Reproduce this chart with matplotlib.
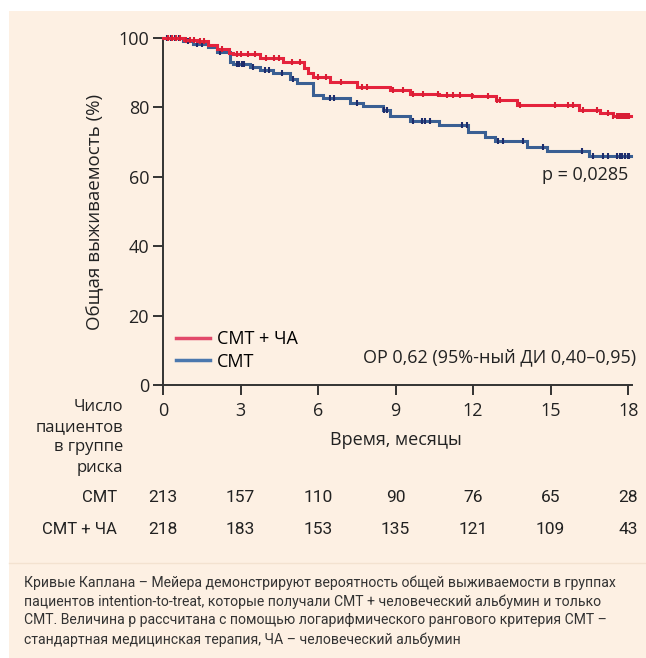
import matplotlib
matplotlib.use("Agg")
import matplotlib.pyplot as plt
import matplotlib.transforms as mtransforms
from matplotlib.patches import Rectangle
from matplotlib.lines import Line2D
import numpy as np

# ---------------- data ----------------
months_ticks = [0, 3, 6, 9, 12, 15, 18]
y_ticks = [0, 20, 40, 60, 80, 100]

ha_times = [0, 0.8, 1.3, 1.75, 2.1, 2.55, 2.7, 3.76, 4.65, 5.45, 5.6, 5.8, 6.47, 7.5,
            8.79, 9.56, 10.7, 11.95, 12.9, 13.7, 16.1, 16.9, 17.4, 18.1]
ha_surv = [100, 99.5, 99.0, 98.0, 96.7, 95.6, 95.3, 94.1, 93.2, 91.4, 89.9, 88.9, 87.4, 86.0,
           85.0, 84.0, 83.6, 83.3, 82.1, 80.7, 79.2, 78.5, 77.6, 77.6]
ha_cens = [0.2, 0.35, 0.5, 0.65, 0.9, 1.05, 1.2, 1.45, 1.6, 2.3, 2.85, 3.0, 3.3, 3.55, 4.0,
           4.3, 4.5, 5.0, 5.3, 6.0, 6.3, 6.9, 7.7, 7.9, 8.9, 9.3, 9.68, 10.07, 10.65, 10.99,
           11.23, 11.5, 11.96, 12.58, 12.93, 13.05, 13.82, 15.18, 15.68, 15.87, 16.26, 16.8,
           17.23, 17.42, 17.58, 17.65, 17.72, 17.8, 17.88, 17.95, 18.02]

smt_times = [0, 0.79, 1.17, 1.75, 2.08, 2.6, 2.72, 3.37, 3.76, 4.27, 4.92, 5.18, 5.8, 6.2,
             7.24, 7.75, 8.5, 8.79, 9.56, 10.7, 11.8, 12.47, 12.85, 14.1, 14.85, 16.5, 18.1]
smt_surv = [100, 99.2, 98.3, 97.3, 96.0, 93.0, 92.5, 91.7, 90.8, 89.9, 88.2, 87.1, 83.6, 82.7,
            81.3, 80.4, 79.2, 77.5, 76.1, 74.9, 73.0, 71.4, 70.4, 68.6, 67.5, 66.1, 66.1]
smt_cens = [0.15, 0.3, 0.45, 0.6, 0.95, 1.3, 1.5, 2.2, 2.85, 2.95, 3.05, 3.15, 3.5, 3.95,
            4.1, 4.6, 5.05, 6.45, 6.6, 7.5, 8.55, 8.65, 9.68, 10.03, 10.14, 10.34, 11.58,
            11.77, 12.97, 13.16, 13.94, 14.71, 16.22, 16.65, 17.03, 17.23, 17.58, 17.68,
            17.78, 17.88, 17.98, 18.05]

risk_smt = [213, 157, 110, 90, 76, 65, 28]
risk_ha = [218, 183, 153, 135, 121, 109, 43]

label_ha = "СМТ + ЧА"
label_smt = "СМТ"
ylabel = "Общая выживаемость (%)"
xlabel = "Время, месяцы"
risk_title = "Число\nпациентов\nв группе\nриска"
p_text = "p = 0,0285"
hr_text = "ОР 0,62 (95%-ный ДИ 0,40–0,95)"
caption = ("Кривые Каплана – Мейера демонстрируют вероятность общей выживаемости в группах\n"
           "пациентов intention-to-treat, которые получали СМТ + человеческий альбумин и только\n"
           "СМТ. Величина р рассчитана с помощью логарифмического рангового критерия СМТ –\n"
           "стандартная медицинская терапия, ЧА – человеческий альбумин")

# ---------------- style ----------------
W, H = 646, 658
DPI = 100
BG = "#FDF0E3"
RED = "#E5233D"
RED_MK = "#D81E34"
BLUE = "#3A5F93"
BLUE_MK = "#1E2C6B"
AX_C = "#333333"
MAIN_FONT = ["Open Sans", "DejaVu Sans"]
NARROW_FONT = ["Liberation Sans Narrow", "Roboto", "DejaVu Sans"]

plt.rcParams["font.family"] = MAIN_FONT

fig = plt.figure(figsize=(W / DPI, H / DPI), dpi=DPI, facecolor="white")
fig.patches.append(Rectangle((9 / W, 0), 1, (H - 11) / H, transform=fig.transFigure,
                             facecolor=BG, edgecolor="none", zorder=-10))
fig.add_artist(Line2D([9 / W, 1], [(H - 563) / H] * 2, transform=fig.transFigure,
                      color="#F3E2D0", lw=1.0))

ax_left, ax_right = 163 / W, 632 / W
ax_bottom, ax_top = (H - 385) / H, (H - 38) / H
ax = fig.add_axes([ax_left, ax_bottom, ax_right - ax_left, ax_top - ax_bottom])
ax.set_facecolor("none")
ax.set_xlim(0, 18.15)
ax.set_ylim(0, 100)
for s in ["top", "right"]:
    ax.spines[s].set_visible(False)
for s in ["left", "bottom"]:
    ax.spines[s].set_color(AX_C)
    ax.spines[s].set_linewidth(1.4)
ax.set_xticks(months_ticks)
ax.set_yticks(y_ticks)
ax.tick_params(axis="both", colors=AX_C, width=1.4, length=7, labelsize=13,
               labelcolor="#222222")
ax.tick_params(axis="x", pad=5)
ax.tick_params(axis="y", pad=3)
ax.set_ylabel(ylabel, fontsize=13.5, color="#222222", labelpad=10)


def surv_at(times, st, ss):
    idx = np.searchsorted(np.array(st), np.array(times), side="right") - 1
    return np.array(ss)[idx]


ax.plot(smt_times, smt_surv, drawstyle="steps-post", color=BLUE, lw=2.2,
        solid_joinstyle="miter", clip_on=False, zorder=3)
ax.plot(smt_cens, surv_at(smt_cens, smt_times, smt_surv), linestyle="none", marker="|",
        ms=5, mew=1.5, color=BLUE_MK, clip_on=False, zorder=4)
ax.plot(ha_times, ha_surv, drawstyle="steps-post", color=RED, lw=2.2,
        solid_joinstyle="miter", clip_on=False, zorder=5)
ax.plot(ha_cens, surv_at(ha_cens, ha_times, ha_surv), linestyle="none", marker="|",
        ms=5, mew=1.5, color=RED_MK, clip_on=False, zorder=6)

# legend
leg_handles = [Line2D([], [], color="#E2496A", lw=2.5), Line2D([], [], color="#4B78AE", lw=2.5)]
leg = fig.legend(leg_handles, [label_ha, label_smt], loc="upper left",
                 bbox_to_anchor=(176 / W, (H - 330) / H), frameon=False, fontsize=13,
                 handlelength=1.9, handletextpad=0.35, labelspacing=0.25, borderpad=0,
                 borderaxespad=0)

ax.text(18.0, 60.5, p_text, ha="right", va="center", fontsize=13, color="#222222")
fig.text(636 / W, (H - 357) / H, hr_text, ha="right", va="center", fontsize=13,
         color="#222222")

# risk table
tr = mtransforms.blended_transform_factory(ax.transData, fig.transFigure)
fig.text(123 / W, (H - 399) / H, risk_title, ha="right", va="top", fontsize=12,
         color="#222222", linespacing=1.35)
ax.text(9, (H - 440) / H, xlabel, transform=tr, ha="center", va="center", fontsize=13,
        color="#222222")
fig.text(117 / W, (H - 497) / H, label_smt, ha="right", va="center", fontsize=12,
         family=NARROW_FONT, color="#222222")
fig.text(117 / W, (H - 529) / H, label_ha, ha="right", va="center", fontsize=12,
         family=NARROW_FONT, color="#222222")
for t, a, b in zip(months_ticks, risk_smt, risk_ha):
    ax.text(t, (H - 497) / H, str(a), transform=tr, ha="center", va="center",
            fontsize=12.5, family=NARROW_FONT, color="#222222")
    ax.text(t, (H - 529) / H, str(b), transform=tr, ha="center", va="center",
            fontsize=12.5, family=NARROW_FONT, color="#222222")

fig.text(24 / W, (H - 575) / H, caption, ha="left", va="top", fontsize=10.1,
         family=NARROW_FONT, color="#333333", linespacing=1.42)

fig.savefig("out.png", dpi=DPI, facecolor="white")
